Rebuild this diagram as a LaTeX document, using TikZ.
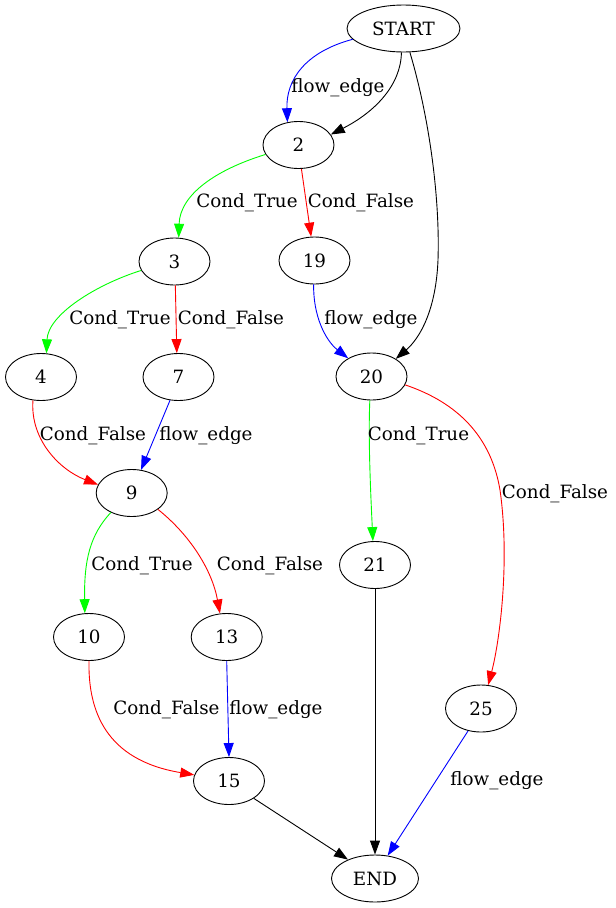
\documentclass[tikz,border=0pt]{standalone}
\usepackage{fontspec}
\setmainfont{DejaVu Serif}
\usetikzlibrary{shapes.geometric,arrows.meta}
\definecolor{gvblue}{RGB}{0,0,255}
\definecolor{gvgreen}{RGB}{0,255,0}
\definecolor{gvred}{RGB}{255,0,0}
\begin{document}
\begin{tikzpicture}[x=1pt,y=-1pt,
  gnode/.style={draw,ellipse,line width=0.9pt,inner sep=0pt,minimum width=71pt,minimum height=47pt,font=\fontsize{18.3}{20}\selectfont},
  lbl/.style={inner sep=0pt,font=\fontsize{18.3}{20}\selectfont},
  edge/.style={line width=0.9pt,-{Triangle[length=14pt,width=10pt]}},
  fe/.style={edge,gvblue},
  ct/.style={edge,gvgreen},
  cf/.style={edge,gvred},
  pl/.style={edge,black}]
\useasboundingbox (0,0) rectangle (616,908);
% nodes
\node[gnode,minimum width=113pt] (START) at (403.5,28.5) {START};
\node[gnode] (n2) at (298.5,145) {2};
\node[gnode] (n3) at (174.5,261.5) {3};
\node[gnode] (n19) at (314.5,260.5) {19};
\node[gnode] (n4) at (41,377) {4};
\node[gnode] (n7) at (178.5,377) {7};
\node[gnode] (n20) at (371.5,376.5) {20};
\node[gnode] (n9) at (131.7,493) {9};
\node[gnode] (n21) at (375,565) {21};
\node[gnode] (n10) at (89,637) {10};
\node[gnode] (n13) at (226.7,637) {13};
\node[gnode] (n25) at (481,708.5) {25};
\node[gnode] (n15) at (229,781) {15};
\node[gnode,minimum width=87pt] (END) at (375,878.5) {END};
% edges
\draw[fe] (START.192) .. controls (305,52) and (286,80) .. (n2.116);
\draw[pl] (START.265) .. controls (401,85) and (375,112) .. (n2.18);
\draw[pl] (START.285) .. controls (430,120) and (440,200) .. (438,260) .. controls (436,310) and (420,338) .. (n20.36);
\draw[ct] (n2.196) .. controls (215,170) and (180,195) .. (n3.80);
\draw[cf] (n2.277) -- (n19.98);
\draw[ct] (n3.195) .. controls (95,285) and (48,315) .. (n4.77);
\draw[cf] (n3.272) -- (n7.94);
\draw[fe] (n19.268) .. controls (313,315) and (325,340) .. (n20.142);
\draw[cf] (n4.251) .. controls (30,440) and (60,470) .. (n9.166);
\draw[fe] (n7.250) -- (n9.68);
\draw[ct] (n20.266) .. controls (368,440) and (371,500) .. (n21.95);
\draw[cf] (n20.346) .. controls (450,400) and (490,430) .. (500,490) .. controls (510,560) and (500,640) .. (n25.73);
\draw[ct] (n9.223) .. controls (90,535) and (84,560) .. (n10.100);
\draw[cf] (n9.328) .. controls (190,535) and (212,570) .. (n13.106);
\draw[cf] (n10.270) .. controls (88,710) and (105,760) .. (n15.170);
\draw[fe] (n13.south) -- (n15.north);
\draw[pl] (n21.south) -- (END.north);
\draw[fe] (n25.240) -- (END.61);
\draw[pl] (n15.325) -- (END.145);
% labels
\node[lbl] (l1) at (338,88) {flow\_edge};
\node[lbl] (l2) at (247,203) {Cond\_True};
\node[lbl] (l3) at (361,203) {Cond\_False};
\node[lbl] (l4) at (120,320) {Cond\_True};
\node[lbl] (l5) at (231,320) {Cond\_False};
\node[lbl] (l6) at (371,320) {flow\_edge};
\node[lbl] (l7) at (93,436) {Cond\_False};
\node[lbl] (l8) at (206,436) {flow\_edge};
\node[lbl] (l9) at (418.5,436) {Cond\_True};
\node[lbl] (l10) at (555,494) {Cond\_False};
\node[lbl] (l11) at (142,566) {Cond\_True};
\node[lbl] (l12) at (270,566) {Cond\_False};
\node[lbl] (l13) at (166.5,710) {Cond\_False};
\node[lbl] (l14) at (276,710) {flow\_edge};
\node[lbl] (l15) at (497,781) {flow\_edge};
\end{tikzpicture}
\end{document}
